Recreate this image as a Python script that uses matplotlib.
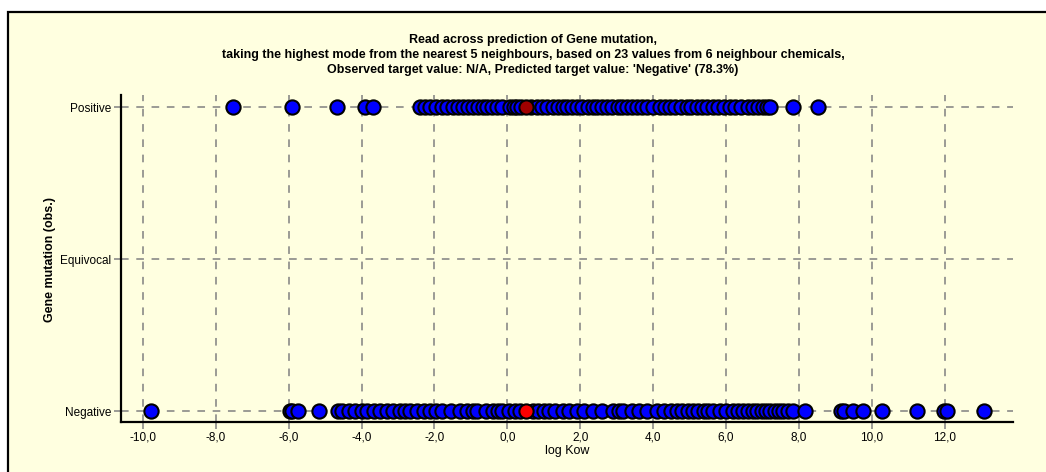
import matplotlib
matplotlib.use("Agg")
import matplotlib.pyplot as plt
from matplotlib.patches import Rectangle

title_lines = [
    "Read across prediction of Gene mutation,",
    "taking the highest mode from the nearest 5 neighbours, based on 23 values from 6 neighbour chemicals,",
    "Observed target value: N/A, Predicted target value: 'Negative' (78.3%)",
]
y_categories = ["Negative", "Equivocal", "Positive"]
x_ticks = [-10, -8, -6, -4, -2, 0, 2, 4, 6, 8, 10, 12]
x_tick_labels = ["-10,0", "-8,0", "-6,0", "-4,0", "-2,0", "0,0", "2,0", "4,0", "6,0", "8,0", "10,0", "12,0"]

positive_logkow = [-7.53, -5.91, -4.68, -3.91, -3.69, -2.40, -2.25, -2.13, -1.95, -1.80, -1.65,
                   -1.50, -1.36, -1.22, -1.08, -0.95, -0.81, -0.67, -0.55, -0.42, -0.29, -0.15,
                   0.07, 0.18, 0.26, 0.38, 0.66, 0.81, 0.95, 1.10, 1.25, 1.40, 1.52, 1.63, 1.78,
                   1.91, 2.05, 2.20, 2.35, 2.46, 2.60, 2.73, 2.88, 3.03, 3.15, 3.28, 3.42, 3.55,
                   3.70, 3.83, 3.99, 4.18, 4.32, 4.46, 4.60, 4.75, 4.92, 5.05, 5.20, 5.33, 5.47,
                   5.64, 5.78, 5.95, 6.10, 6.25, 6.40, 6.60, 6.75, 6.88, 7.01, 7.12, 7.20, 7.83, 8.52]
negative_logkow = [-9.78, -5.97, -5.90, -5.75, -5.17, -4.65, -4.54, -4.35, -4.18, -4.00, -3.85,
                   -3.65, -3.50, -3.31, -3.15, -2.95, -2.80, -2.67, -2.48, -2.30, -2.13, -1.95,
                   -1.80, -1.55, -1.30, -1.10, -0.95, -0.84, -0.60, -0.40, -0.25, -0.15, 0.05,
                   0.20, 0.35, 0.70, 0.85, 1.00, 1.15, 1.30, 1.52, 1.70, 1.91, 2.10, 2.35, 2.60,
                   2.89, 3.05, 3.17, 3.42, 3.60, 3.83, 4.10, 4.30, 4.50, 4.65, 4.80, 4.95, 5.10,
                   5.23, 5.38, 5.50, 5.65, 5.83, 6.00, 6.19, 6.32, 6.46, 6.60, 6.74, 6.86, 6.98,
                   7.10, 7.20, 7.35, 7.45, 7.56, 7.70, 7.83, 8.16, 9.15, 9.23, 9.48, 9.75, 10.27,
                   11.23, 11.98, 12.06, 13.07]
target_logkow = 0.51

BG = "#FFFFE0"
FONT = ["Liberation Sans", "DejaVu Sans"]

fig = plt.figure(figsize=(10.46, 4.72), dpi=100)
fig.patch.set_facecolor("white")
W, H = 1046, 472
frame = Rectangle((8 / W, -0.1), 1.2, 1 - 12 / H + 0.1, transform=fig.transFigure,
                  facecolor=BG, edgecolor="black", linewidth=1.6, zorder=-5)
fig.patches.append(frame)

ax = fig.add_axes([121 / W, 1 - 422 / H, (1013 - 121) / W, (422 - 95) / H])
ax.set_facecolor("none")

ypos = {c: i for i, c in enumerate(y_categories)}

# grid
for yv in range(len(y_categories)):
    ax.axhline(yv, color="#808080", lw=1.1, dashes=(5, 5), zorder=1)
for xv in x_ticks:
    ax.axvline(xv, color="#808080", lw=1.1, dashes=(5, 5), zorder=1)

mk = dict(marker="o", s=105, edgecolors="black", linewidths=1.5, zorder=3)
ax.scatter(positive_logkow, [ypos["Positive"]] * len(positive_logkow), c="#0000FF", **mk)
ax.scatter(negative_logkow, [ypos["Negative"]] * len(negative_logkow), c="#0000FF", **mk)
ax.scatter([target_logkow], [ypos["Positive"]], c="#A00000", **mk)
ax.scatter([target_logkow], [ypos["Negative"]], c="#FF0000", **mk)

ax.set_xlim(-10.60, 13.87)
ax.set_ylim(-0.072, 2.079)
ax.set_xticks(x_ticks)
ax.set_xticklabels(x_tick_labels, family=FONT, fontsize=8.5)
ax.set_yticks(range(len(y_categories)))
ax.set_yticklabels(y_categories, family=FONT, fontsize=8.5)
ax.tick_params(axis="both", direction="out", length=5, color="#808080", width=1.1, pad=2)

for s in ["top", "right"]:
    ax.spines[s].set_visible(False)
for s in ["left", "bottom"]:
    ax.spines[s].set_linewidth(1.6)
    ax.spines[s].set_color("black")

ax.set_xlabel("log Kow", family=FONT, fontsize=9, labelpad=1)
fig.text(50 / W, 1 - 259 / H, "Gene mutation (obs.)", rotation=90, ha="center", va="center",
         family=FONT, fontsize=9, fontweight="bold")

for i, line in enumerate(title_lines):
    fig.text(533 / W, 1 - (40 + 15 * i) / H, line, ha="center", va="center",
             family=FONT, fontsize=9, fontweight="bold")

fig.savefig("out.png", dpi=100, facecolor=fig.get_facecolor())
